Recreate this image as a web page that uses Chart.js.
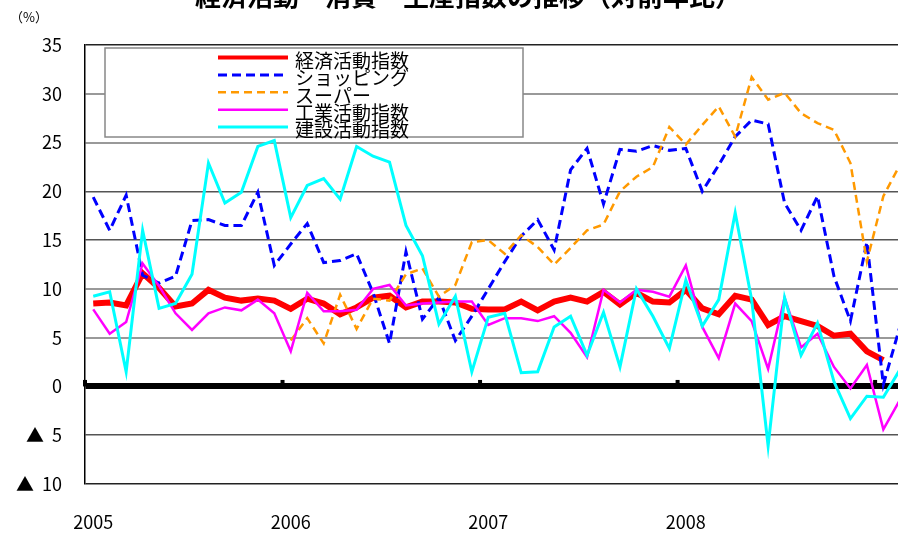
<!DOCTYPE html>
<html lang="ja">
<head>
<meta charset="utf-8">
<script src="https://cdn.jsdelivr.net/npm/chart.js@4.4.0/dist/chart.umd.min.js"></script>
<style>
  html, body { margin: 0; padding: 0; background: #fff; overflow: hidden; }
  #wrap { position: relative; width: 898px; height: 537px; overflow: hidden; }
  #title { position: absolute; left: 0; top: -21px; width: 936px; text-align: center;
           font: bold 26px 'Noto Sans CJK JP'; line-height: 32px; white-space: nowrap; }
  #unit { position: absolute; left: 10px; top: 7px; font: 13px 'Noto Sans CJK JP'; }
  canvas { position: absolute; left: 0; top: 0; }
</style>
</head>
<body>
<div id="wrap">
  <canvas id="chart" width="960" height="537"></canvas>
  <div id="title">経済活動・消費・生産指数の推移（対前年比）</div>
  <div id="unit">（%）</div>
</div>
<script>
// months Jan 2005 .. Mar 2009
const years = [2005, 2006, 2007, 2008, 2009];
const yearLabels = ['2005', '2006', '2007', '2008'];
const months = [];
years.forEach(y => { for (let m = 1; m <= 12; m++) months.push(y + '/' + m); });
months.length = 51;

const keizai = [8.5, 8.6, 8.3, 11.6, 10.1, 8.2, 8.5, 9.9, 9.1, 8.8, 9.0, 8.8,
                7.95, 9.0, 8.5, 7.4, 8.1, 9.1, 9.3, 8.1, 8.7, 8.7, 8.6, 7.95,
                7.9, 7.9, 8.7, 7.8, 8.7, 9.1, 8.7, 9.7, 8.4, 9.6, 8.7, 8.6,
                9.9, 8.0, 7.4, 9.3, 8.9, 6.3, 7.2, 6.7, 6.2, 5.2, 5.4, 3.6,
                2.7];
const shopping = [19.4, 16.0, 19.6, 11.4, 10.6, 11.3, 17.0, 17.1, 16.5, 16.5, 19.9, 12.4,
                  14.6, 16.7, 12.7, 12.9, 13.6, 9.6, 4.4, 13.8, 6.9, 9.1, 4.7, 7.2,
                  10.0, 12.8, 15.4, 17.1, 14.0, 22.2, 24.4, 18.7, 24.3, 24.1, 24.7, 24.2,
                  24.4, 20.0, 22.7, 25.6, 27.3, 26.9, 18.8, 16.0, 19.5, 11.3, 6.7, 14.8,
                  0.2, 6.1];
const super_ = [null, null, null, null, null, null, null, null, null, null, null, null,
                4.7, 7.0, 4.4, 9.4, 5.9, 9.0, 8.8, 11.5, 12.1, 9.2, 10.4, 14.8,
                15.0, 13.6, 15.5, 14.3, 12.5, 14.2, 16.0, 16.6, 20.0, 21.5, 22.5, 26.6,
                24.8, 26.8, 28.7, 25.6, 31.7, 29.4, 30.1, 28.0, 27.0, 26.3, 22.9, 12.8,
                19.5, 22.7];
const kogyo = [7.9, 5.4, 6.6, 12.6, 10.3, 7.5, 5.8, 7.5, 8.1, 7.8, 8.9, 7.5,
               3.6, 9.6, 7.7, 7.7, 7.85, 10.0, 10.4, 8.3, 8.5, 8.6, 8.7, 8.7,
               6.3, 7.0, 7.0, 6.7, 7.2, 5.5, 3.0, 9.9, 8.6, 9.9, 9.7, 9.2,
               12.4, 6.1, 2.9, 8.5, 6.7, 1.8, 9.1, 4.0, 5.4, 2.0, -0.2, 2.2,
               -4.4, -1.4];
const kensetsu = [9.25, 9.7, 1.5, 16.0, 8.0, 8.5, 11.5, 22.9, 18.8, 19.9, 24.6, 25.2,
                  17.3, 20.6, 21.3, 19.2, 24.6, 23.6, 23.0, 16.5, 13.4, 6.4, 9.25, 1.5,
                  7.1, 7.5, 1.4, 1.5, 6.1, 7.2, 3.2, 7.6, 2.0, 10.0, 7.2, 3.9,
                  10.9, 6.2, 8.9, 17.8, 8.9, -6.1, 9.1, 3.2, 6.5, 0.5, -3.3, -1.0,
                  -1.1, 1.7];

const FONT = 'Noto Sans CJK JP';

// small black marks on the zero line at each January
const yearMarks = {
  id: 'yearMarks',
  beforeDatasetsDraw(chart) {
    const c = chart.ctx;
    const x = chart.scales.x;
    const y0 = chart.scales.y.getPixelForValue(0);
    const half = (x.getPixelForValue(1) - x.getPixelForValue(0)) / 2;
    c.save();
    c.fillStyle = '#000';
    for (let i = 0; i < months.length; i += 12) {
      const px = x.getPixelForValue(i) - half;
      c.fillRect(px - 2, y0 - 6.5, 4, 6.5);
    }
    c.restore();
  }
};

// legend box inside the plot, like the original
const boxLegend = {
  id: 'boxLegend',
  afterDatasetsDraw(chart) {
    const c = chart.ctx;
    c.save();
    c.fillStyle = '#fff';
    c.fillRect(105, 48, 418, 89);
    c.strokeStyle = '#888';
    c.lineWidth = 1.5;
    c.strokeRect(105, 48, 418, 89);
    chart.data.datasets.forEach((ds, i) => {
      const y = 57.5 + i * 17.4;
      c.beginPath();
      c.setLineDash(ds.borderDash || []);
      c.strokeStyle = ds.borderColor;
      c.lineWidth = Math.min(ds.borderWidth, 4);
      c.moveTo(218, y);
      c.lineTo(288, y);
      c.stroke();
      c.setLineDash([]);
      c.fillStyle = '#000';
      c.font = '19px "' + FONT + '"';
      c.textBaseline = 'middle';
      c.fillText(ds.label, 295, y + 3);
    });
    c.restore();
  }
};

function gridColor(v) {
  if (v === 0) return '#000';
  if (v === 35 || v === -10) return '#222';
  if (v === 20 || v === 15 || v === -5) return '#555';
  return '#999';
}
function gridWidth(v) {
  if (v === 0) return 6;
  if (v === 30 || v === 25 || v === 10 || v === 5) return 2;
  return 1.5;
}

const ctx = document.getElementById('chart').getContext('2d');
new Chart(ctx, {
  type: 'line',
  data: {
    labels: months,
    datasets: [
      { label: '経済活動指数', data: keizai, borderColor: '#ff0000', borderWidth: 6, order: 5 },
      { label: 'ショッピング', data: shopping, borderColor: '#0000ff', borderWidth: 3, borderDash: [9, 5], order: 4 },
      { label: 'スーパー', data: super_, borderColor: '#ff9900', borderWidth: 2.5, borderDash: [8, 5], order: 3 },
      { label: '工業活動指数', data: kogyo, borderColor: '#ff00ff', borderWidth: 2.5, order: 2 },
      { label: '建設活動指数', data: kensetsu, borderColor: '#00ffff', borderWidth: 3, order: 1 }
    ]
  },
  options: {
    responsive: false,
    animation: false,
    devicePixelRatio: 1,
    layout: { padding: { left: 0, top: 45, right: 35.5, bottom: 0 } },
    plugins: {
      legend: { display: false },
      tooltip: { enabled: false },
      title: { display: false }
    },
    elements: {
      point: { radius: 0 },
      line: { tension: 0, borderJoinStyle: 'miter' }
    },
    scales: {
      x: {
        offset: true,
        grid: { display: false, drawTicks: false },
        border: { display: false },
        ticks: {
          autoSkip: false,
          maxRotation: 0,
          padding: 27,
          color: '#000',
          font: { family: FONT, size: 18 },
          callback: (v, i) => (i % 12 === 0 && yearLabels[i / 12]) ? yearLabels[i / 12] : ''
        },
        afterFit: s => { s.height = 53; }
      },
      y: {
        min: -10,
        max: 35,
        ticks: {
          stepSize: 5,
          padding: 23,
          color: '#000',
          font: { family: FONT, size: 18 },
          callback: v => v < 0 ? '▲  ' + (-v) : String(v)
        },
        grid: {
          drawTicks: false,
          color: c => gridColor(c.tick.value),
          lineWidth: c => gridWidth(c.tick.value)
        },
        border: { display: true, color: '#000', width: 1.5 },
        afterFit: s => { s.width = 85; }
      }
    }
  },
  plugins: [yearMarks, boxLegend]
});
</script>
</body>
</html>
